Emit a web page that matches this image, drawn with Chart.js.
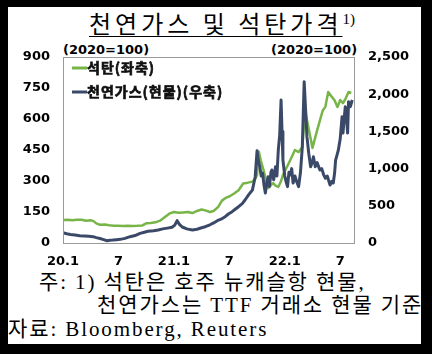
<!DOCTYPE html>
<html>
<head>
<meta charset="utf-8">
<script src="https://cdn.jsdelivr.net/npm/chart.js@4"></script>
<style>
  html, body { margin: 0; padding: 0; background: #000; }
  #page { position: relative; width: 432px; height: 354px; background: #000; overflow: hidden; }
  #box { position: absolute; left: 8px; top: 7px; width: 413px; height: 337px; background: #fff; overflow: hidden; }
  #chart { position: absolute; left: 0; top: 0; }
  .t { position: absolute; white-space: nowrap; color: #000; }
  #title { left: 81px; top: -2px; font-family: "Noto Sans CJK KR"; font-size: 24px; letter-spacing: 4px; word-spacing: 0px; }
  #title u { text-underline-offset: 3px; text-decoration-thickness: 1px; }
  #title sup { font-family: "Liberation Serif"; font-size: 15px; vertical-align: 9px; letter-spacing: 0; }
  .unit { font-family: "DejaVu Sans"; font-weight: bold; font-size: 13px; top: 35px; }
  .note { font-family: "Liberation Serif", "Noto Sans CJK KR"; font-size: 21px; letter-spacing: 1.9px; }
</style>
</head>
<body>
<div id="page">
  <div id="box">
    <div class="t" id="title"><u>천연가스 및 석탄가격</u><sup>1)</sup></div>
    <div class="t unit" style="left:55px">(2020=100)</div>
    <div class="t unit" style="left:263px">(2020=100)</div>
    <div class="t note" style="left:31px; top:258px">주: 1) 석탄은 호주 뉴캐슬항 현물,</div>
    <div class="t note" style="left:89px; top:281px">천연가스는 TTF 거래소 현물 기준</div>
    <div class="t note" style="left:0px; top:305px">자료: Bloomberg, Reuters</div>
  </div>
  <canvas id="chart" width="432" height="354"></canvas>
</div>
<script>
// months since Jan 2020
const xTickPositions = [0, 6, 12, 18, 24, 30];
const xTickLabels = ["20.1", "7", "21.1", "7", "22.1", "7"];

// coal, left axis (2020=100)
const coalMonths = [0, 0.5, 1, 1.5, 2, 2.5, 3, 3.3, 3.6, 4, 4.5, 5, 5.5, 6, 6.5, 7, 7.5, 8, 8.6, 9,
  9.5, 10, 10.5, 11, 11.5, 12, 12.5, 13, 13.5, 14, 14.5, 15, 15.4, 15.9, 16.3, 16.8, 17.2, 17.6, 18, 18.6,
  19, 19.5, 20, 20.5, 20.8, 21, 21.2, 21.4, 21.7, 22, 22.2, 22.5, 22.75, 23, 23.3, 23.6, 23.8, 24.2, 24.6, 25.1,
  25.5, 25.9, 26.2, 26.6, 27, 27.5, 28.1, 28.4, 28.7, 29.1, 29.4, 29.7, 30, 30.3, 30.6, 30.9, 31.2];
const coalValues = [111, 113, 110, 113, 112, 108, 110, 106, 95, 88, 90, 86, 84, 84, 82, 83, 82, 83, 85, 95,
  97, 100, 108, 125, 142, 150, 146, 148, 150, 145, 155, 162, 158, 150, 155, 175, 205, 218, 225, 242,
  255, 288, 292, 297, 310, 329, 442, 400, 353, 300, 266, 280, 290, 278, 271, 300, 329, 365, 402, 450,
  440, 465, 640, 550, 460, 545, 640, 660, 731, 707, 690, 658, 692, 677, 700, 731, 726];

// natural gas spot, right axis (2020=100)
const gasMonths = [0, 0.4, 0.8, 1.3, 1.8, 2.3, 2.8, 3.25, 3.6, 4, 4.4, 4.77, 5.1, 5.4, 5.8, 6.2, 6.7, 7.26, 7.8, 8.34,
  8.8, 9.2, 9.8, 10.3, 10.8, 11.3, 11.8, 12.1, 12.35, 12.6, 12.9, 13.4, 14, 14.5, 15, 15.4, 15.9, 16.3, 16.7, 17.1,
  17.55, 17.9, 18.3, 18.6, 19, 19.4, 19.7, 20.1, 20.5, 20.8, 21, 21.15, 21.3, 21.45, 21.6, 21.75, 21.9, 22.05, 22.2, 22.35,
  22.5, 22.6, 22.8, 23, 23.15, 23.3, 23.45, 23.6, 23.7, 23.8, 24, 24.15, 24.3, 24.45, 24.6, 24.75, 24.9, 25.1, 25.3, 25.5,
  25.7, 25.9, 26.1, 26.25, 26.4, 26.6, 26.8, 27, 27.1, 27.3, 27.5, 27.8, 28, 28.2, 28.4, 28.6, 28.9, 29.1, 29.25, 29.4,
  29.5, 29.65, 29.8, 30, 30.2, 30.3, 30.45, 30.55, 30.7, 30.8, 30.9, 31.1, 31.3];
const gasValues = [138, 125, 115, 108, 98, 95, 90, 85, 72, 60, 45, 31, 38, 40, 45, 49, 62, 85, 100, 130,
  145, 157, 165, 175, 190, 200, 211, 240, 300, 250, 215, 190, 175, 185, 205, 219, 245, 270, 300, 320,
  354, 390, 421, 450, 488, 530, 578, 650, 712, 891, 1240, 1100, 1025, 900, 940, 780, 672, 800, 891, 760,
  950, 981, 850, 1025, 900, 1250, 1450, 1922, 1500, 1115, 900, 820, 757, 950, 914, 1000, 806, 900, 820, 757,
  950, 1294, 2168, 1800, 1429, 1200, 1025, 1100, 1160, 1025, 1080, 981, 1000, 920, 870, 900, 780, 830, 806, 950,
  1115, 1180, 1250, 1400, 1697, 1478, 1700, 1832, 1650, 1478, 1899, 1832, 1922];

const green = "#78b548";
const navy = "#3b4969";

const toPoints = (xs, ys) => xs.map((x, i) => ({ x: x, y: ys[i] }));

const frame = {
  id: "frame",
  afterDatasetsDraw(chart) {
    const { ctx, chartArea: a } = chart;
    ctx.save();
    ctx.strokeStyle = "#9a9a9a";
    ctx.lineWidth = 1;
    ctx.strokeRect(a.left + 0.5, a.top + 0.5, a.right - a.left - 1, a.bottom - a.top);
    // legend inside the plot
    ctx.font = "bold 14px 'Noto Sans CJK KR'";
    ctx.letterSpacing = "1px";
    ctx.textBaseline = "middle";
    chart.data.datasets.forEach((ds, i) => {
      const y = 68 + i * 24;
      ctx.strokeStyle = ds.borderColor;
      ctx.lineWidth = 3;
      ctx.beginPath();
      ctx.moveTo(72, y);
      ctx.lineTo(87, y);
      ctx.stroke();
      ctx.fillStyle = "#111";
      ctx.strokeStyle = "#111";
      ctx.lineWidth = 0.7;
      ctx.fillText(ds.label, 87, y);
      ctx.strokeText(ds.label, 87, y);
    });
    ctx.restore();
  }
};

const tickFont = { family: "DejaVu Sans", weight: "bold", size: 13 };

new Chart(document.getElementById("chart"), {
  type: "line",
  data: {
    datasets: [
      {
        label: "석탄(좌축)",
        data: toPoints(coalMonths, coalValues),
        borderColor: green,
        borderWidth: 2.5,
        yAxisID: "y",
        order: 2
      },
      {
        label: "천연가스(현물)(우축)",
        data: toPoints(gasMonths, gasValues),
        borderColor: navy,
        borderWidth: 3,
        yAxisID: "y1",
        order: 1
      }
    ]
  },
  options: {
    responsive: false,
    animation: false,
    events: [],
    layout: { padding: { top: 57, left: 0, right: 0, bottom: 0 } },
    elements: { point: { radius: 0 }, line: { tension: 0, borderJoinStyle: "round" } },
    plugins: { legend: { display: false }, tooltip: { enabled: false } },
    scales: {
      x: {
        type: "linear",
        min: 0,
        max: 31.6,
        grid: { display: false },
        border: { display: false },
        afterBuildTicks: (s) => { s.ticks = xTickPositions.map(v => ({ value: v })); },
        afterFit: (s) => { s.height = 111; },
        ticks: {
          color: "#000",
          font: tickFont,
          padding: 3,
          maxRotation: 0,
          autoSkip: false,
          callback: (v) => xTickLabels[xTickPositions.indexOf(v)]
        }
      },
      y: {
        position: "left",
        min: 0,
        max: 900,
        grid: { display: false, drawTicks: false },
        border: { display: false },
        afterFit: (s) => { s.width = 63; },
        ticks: { stepSize: 150, color: "#000", font: tickFont, padding: 13 }
      },
      y1: {
        position: "right",
        min: 0,
        max: 2500,
        grid: { display: false, drawTicks: false },
        border: { display: false },
        afterFit: (s) => { s.width = 77; },
        ticks: {
          stepSize: 500,
          color: "#000",
          font: tickFont,
          padding: 13,
          callback: (v) => v.toLocaleString("en-US")
        }
      }
    }
  },
  plugins: [frame]
});
</script>
</body>
</html>
